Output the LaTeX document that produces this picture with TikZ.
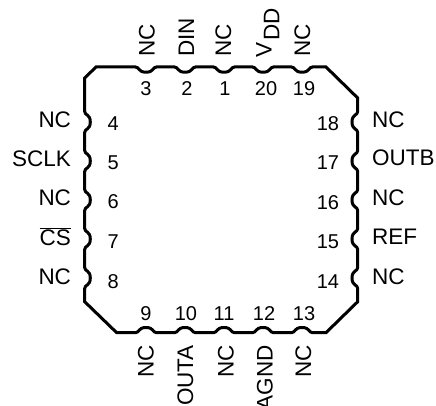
\documentclass[tikz,border=0pt]{standalone}
\usepackage{fontspec}
\setmainfont{Liberation Sans}
\tikzset{
  x=1pt,y=-1pt,
  outline/.style={line width=3pt,line join=miter,draw=black},
  pinname/.style={inner sep=0pt,outer sep=0pt,font=\fontsize{22.5}{24}\selectfont},
  pinnum/.style={inner sep=0pt,outer sep=0pt,font=\fontsize{20}{22}\selectfont},
  upname/.style={pinname,rotate=90,anchor=base west},
  downname/.style={pinname,rotate=90,anchor=base east},
  leftname/.style={pinname,anchor=base east},
  rightname/.style={pinname,anchor=base west},
  numc/.style={pinnum,anchor=base},
  numl/.style={pinnum,anchor=base west},
  numr/.style={pinnum,anchor=base east}
}
\begin{document}
\begin{tikzpicture}
\clip (0,0) rectangle (436,406);
\fill[white] (0,0) rectangle (436,406);
% package outline with its pin notches
\draw[outline] (96,67)
  \foreach \c in {146,185,224,263,302}{
    -- (\c-10.5,67) .. controls (\c-6.5,67) and (\c-8,72.2) .. (\c,72.2) .. controls (\c+8,72.2) and (\c+6.5,67) .. (\c+10.5,67)}
  -- (326,67) -- (357.7,98)
  \foreach \c in {122,161,200,239,278}{
    -- (357.7,\c-10.5) .. controls (357.7,\c-6.5) and (352,\c-8) .. (352,\c) .. controls (352,\c+8) and (357.7,\c+6.5) .. (357.7,\c+10.5)}
  -- (357.7,301.7) -- (326,332.7)
  \foreach \c in {302,263,224,185,146}{
    -- (\c+10.5,332.7) .. controls (\c+6.5,332.7) and (\c+8,327.5) .. (\c,327.5) .. controls (\c-8,327.5) and (\c-6.5,332.7) .. (\c-10.5,332.7)}
  -- (116.7,332.7) -- (84.7,301.7)
  \foreach \c in {278,239,200,161,122}{
    -- (84.7,\c+10.5) .. controls (84.7,\c+6.5) and (90.3,\c+8) .. (90.3,\c) .. controls (90.3,\c-8) and (84.7,\c-6.5) .. (84.7,\c-10.5)}
  -- (84.7,78) -- cycle;
% top names
\node[upname] (t3) at (154.5,57) {NC};
\node[upname] (t2) at (194,57) {DIN};
\node[upname] (t1) at (231,57) {NC};
\node[upname] (t20a) at (271.7,58) {V};
\node[upname] (t20b) at (279.3,41) {DD};
\node[upname] (t19) at (310,57) {NC};
% top numbers
\node[numc] (n3) at (146,96) {3};
\node[numc] (n2) at (187,96) {2};
\node[numc] (n1) at (225,96) {1};
\node[numc] (n20) at (266,96) {20};
\node[numc] (n19) at (304,96) {19};
% bottom names
\node[downname] (b9) at (153.5,345) {NC};
\node[downname] (b10) at (193,345) {OUTA};
\node[downname] (b11) at (233.5,345) {NC};
\node[downname] (b12) at (272.5,345) {AGND};
\node[downname] (b13) at (311,345) {NC};
% bottom numbers
\node[numc] (n9) at (146,320) {9};
\node[numc] (n10) at (186,320) {10};
\node[numc] (n11) at (224,320) {11};
\node[numc] (n12) at (264,320) {12};
\node[numc] (n13) at (304,320) {13};
% left names
\node[leftname] (l4) at (71,127.5) {NC};
\node[leftname] (l5) at (71,166.7) {SCLK};
\node[leftname] (l6) at (71,205) {NC};
\node[leftname] (l7) at (71,245.7) {$\overline{\mbox{CS}}$};
\node[leftname] (l8) at (71,284) {NC};
% left numbers
\node[numl] (n4) at (107.7,131) {4};
\node[numl] (n5) at (107.7,170) {5};
\node[numl] (n6) at (107.7,208.5) {6};
\node[numl] (n7) at (107.7,248) {7};
\node[numl] (n8) at (107.7,288) {8};
% right names
\node[rightname] (r18) at (372,127.3) {NC};
\node[rightname] (r17) at (372,165.7) {OUTB};
\node[rightname] (r16) at (372,205) {NC};
\node[rightname] (r15) at (372,244) {REF};
\node[rightname] (r14) at (372,284) {NC};
% right numbers
\node[numr] (n18) at (339,131) {18};
\node[numr] (n17) at (339,170) {17};
\node[numr] (n16) at (339,209) {16};
\node[numr] (n15) at (339,248) {15};
\node[numr] (n14) at (339,288) {14};
\end{tikzpicture}
\end{document}
